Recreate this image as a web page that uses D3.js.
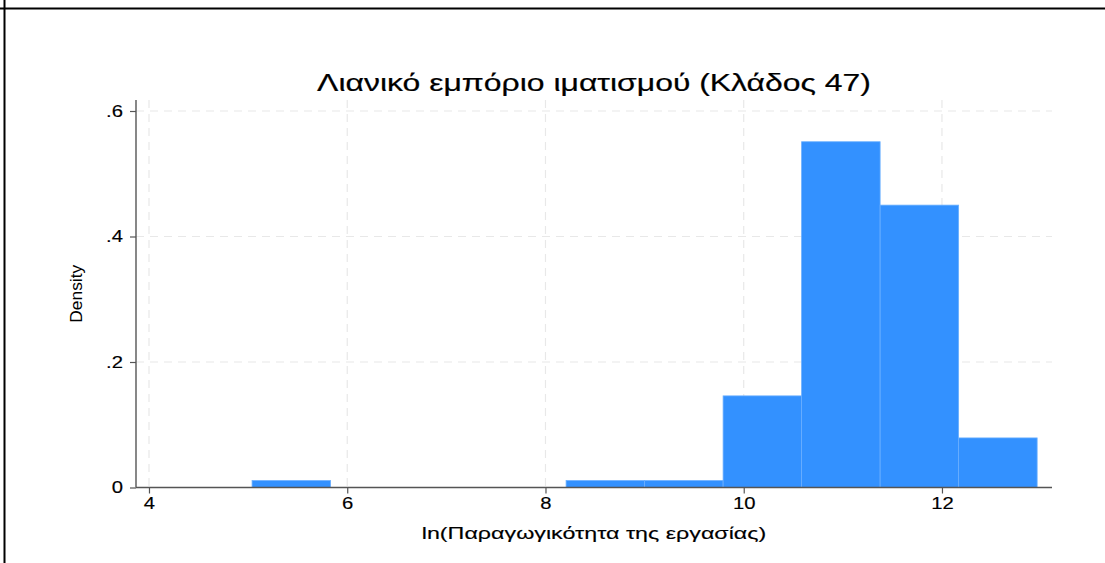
<!DOCTYPE html>
<html>
<head>
<meta charset="utf-8">
<script src="https://cdn.jsdelivr.net/npm/d3@7"></script>
<style>
  html, body { margin: 0; background: #fff; overflow: hidden; }
  svg { display: block; }
  svg text { font-family: "Liberation Sans", Arial, Helvetica, sans-serif; fill: #000; }
</style>
</head>
<body>
<div id="chart"></div>
<script>
// histogram bins (lower edges) and densities
var binStarts = [5.04, 5.832, 6.624, 7.416, 8.208, 9.0, 9.792, 10.584, 11.376, 12.168];
var binWidth = 0.792;
var densities = [0.011, 0, 0, 0, 0.011, 0.011, 0.146, 0.551, 0.450, 0.079];

var xTicks = [4, 6, 8, 10, 12];
var yTicks = [0, 0.2, 0.4, 0.6];
var yTickLabels = ["0", ".2", ".4", ".6"];

var titleText = "Λιανικό εμπόριο ιματισμού (Κλάδος 47)";
var xLabel = "ln(Παραγωγικότητα της εργασίας)";
var yLabel = "Density";

// the original text is wider than Arial; widen it sideways to match
var titleStretch = 1.37, labelStretch = 1.41, tickStretch = 1.25;

var W = 1105, H = 563;
var margin = {top: 100, right: 53, bottom: 75.5, left: 136};
var width = W - margin.left - margin.right,
    height = H - margin.top - margin.bottom;

var svg = d3.select("#chart").append("svg")
    .attr("width", W)
    .attr("height", H);

// frame lines of the cell the chart sits in
svg.append("line").attr("x1", 0).attr("x2", W).attr("y1", 8.5).attr("y2", 8.5)
    .attr("stroke", "#000").attr("stroke-width", 2);
svg.append("line").attr("x1", 4.5).attr("x2", 4.5).attr("y1", 0).attr("y2", H)
    .attr("stroke", "#000").attr("stroke-width", 2);

var g = svg.append("g")
    .attr("transform", "translate(" + margin.left + "," + margin.top + ")");

var x = d3.scaleLinear()
    .domain([3.869, 13.11])
    .range([0, width]);

var y = d3.scaleLinear()
    .domain([0, 0.6])
    .range([height, height - 376.5]);

// grid
g.selectAll(".vgrid").data(xTicks).enter().append("line")
    .attr("class", "vgrid")
    .attr("x1", function(d) { return x(d); })
    .attr("x2", function(d) { return x(d); })
    .attr("y1", 0).attr("y2", height)
    .attr("stroke", "#e8e8e8").attr("stroke-width", 1.2)
    .attr("stroke-dasharray", "8,6");

g.selectAll(".hgrid").data(yTicks.slice(1)).enter().append("line")
    .attr("class", "hgrid")
    .attr("x1", 0).attr("x2", width)
    .attr("y1", function(d) { return y(d); })
    .attr("y2", function(d) { return y(d); })
    .attr("stroke", "#e8e8e8").attr("stroke-width", 1.2)
    .attr("stroke-dasharray", "8,6");

// bars
g.selectAll(".bar").data(densities).enter().append("rect")
    .attr("class", "bar")
    .attr("x", function(d, i) { return x(binStarts[i]); })
    .attr("width", function(d, i) { return x(binStarts[i] + binWidth) - x(binStarts[i]); })
    .attr("y", function(d) { return y(d); })
    .attr("height", function(d) { return height - y(d); })
    .attr("fill", "#3391ff")
    .attr("stroke", function(d) { return d > 0 ? "#6aafff" : "none"; })
    .attr("stroke-width", 0.8);

// axes
var xAxis = d3.axisBottom(x).tickValues(xTicks).tickSize(6).tickPadding(4);
var yAxis = d3.axisLeft(y).tickValues(yTicks).tickSize(6).tickPadding(7)
    .tickFormat(function(d, i) { return yTickLabels[i]; });

var gx = g.append("g")
    .attr("transform", "translate(0," + height + ")")
    .call(xAxis);
var gy = g.append("g").call(yAxis);

[gx, gy].forEach(function(a) {
    a.select(".domain").attr("stroke", "#555").attr("stroke-width", 1.4);
    a.selectAll(".tick line").attr("stroke", "#555").attr("stroke-width", 1.2);
    a.selectAll(".tick text")
        .style("font-family", "'Liberation Sans', Arial, sans-serif")
        .attr("font-size", 16.2).attr("fill", "#000")
        .attr("stroke", "#000").attr("stroke-width", 0.15);
});
gy.select(".domain").attr("d", "M0," + height + "V0");
gx.select(".domain").attr("d", "M0,0H" + width);

gx.selectAll(".tick text").attr("transform", "scale(" + tickStretch + ",1)");
gy.selectAll(".tick text")
    .attr("x", -13 / tickStretch)
    .attr("transform", "scale(" + tickStretch + ",1)");

// titles
g.append("text")
    .attr("transform", "translate(" + (width / 2) + "," + (-9) + ") scale(" + titleStretch + ",1)")
    .attr("text-anchor", "middle")
    .attr("font-size", 23.3)
    .attr("stroke", "#000").attr("stroke-width", 0.2)
    .text(titleText);

g.append("text")
    .attr("transform", "translate(" + (width / 2) + "," + (height + 51.5) + ") scale(" + labelStretch + ",1)")
    .attr("text-anchor", "middle")
    .attr("font-size", 16.5)
    .attr("stroke", "#000").attr("stroke-width", 0.15)
    .text(xLabel);

g.append("text")
    .attr("transform", "translate(" + (-54) + "," + (height / 2) + ") rotate(-90)")
    .attr("text-anchor", "middle")
    .attr("font-size", 17.4)
    .text(yLabel);
</script>
</body>
</html>
